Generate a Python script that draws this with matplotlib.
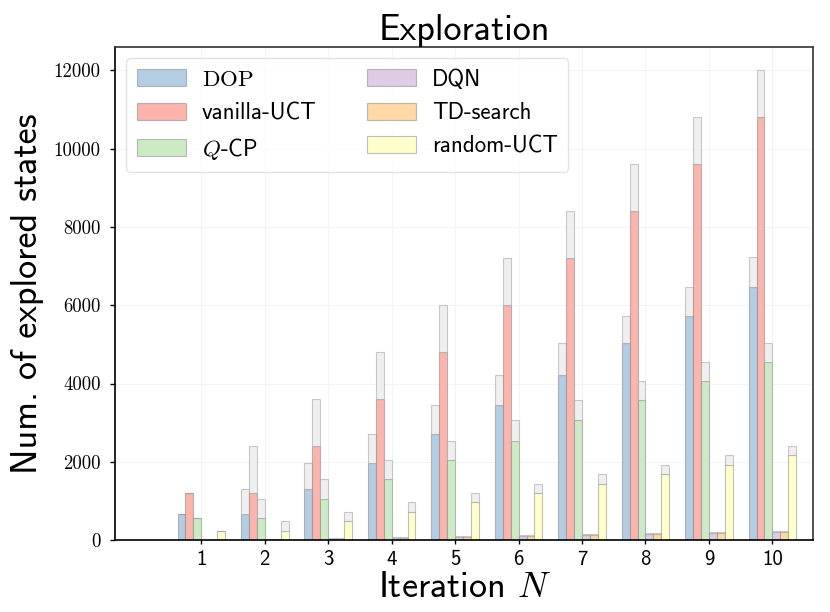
import numpy as np
import matplotlib
matplotlib.use("Agg")
import matplotlib.pyplot as plt

plt.rcParams['mathtext.fontset'] = 'cm'
plt.rcParams['axes.unicode_minus'] = False

# explored states after each iteration (top of the grey part)
iterations = [1, 2, 3, 4, 5, 6, 7, 8, 9, 10]
dop = [660, 1305, 1970, 2705, 3450, 4210, 5030, 5730, 6460, 7234]
vanilla_uct = [1200, 2400, 3600, 4800, 6000, 7200, 8400, 9600, 10800, 12000]
q_cp = [555, 1050, 1553, 2047, 2525, 3065, 3580, 4062, 4555, 5040]
dqn = [10, 35, 60, 85, 105, 135, 160, 185, 210, 230]
td_search = [10, 35, 60, 85, 105, 135, 160, 185, 210, 230]
random_uct = [222, 478, 709, 965, 1200, 1433, 1680, 1915, 2167, 2397]

labels = [r'$\mathrm{DOP}$', 'vanilla-UCT', r'$Q$-CP', 'DQN', 'TD-search', 'random-UCT']
series = [dop, vanilla_uct, q_cp, dqn, td_search, random_uct]
colors = ['#b3cde3', '#fbb4ae', '#ccebc5', '#decbe4', '#fed9a6', '#ffffcc']

sans = 'cmss10'

fig, ax = plt.subplots(figsize=(8.3, 6.12), dpi=100)
fig.subplots_adjust(left=0.1386, right=0.9795, top=0.9232, bottom=0.1176)

x = np.array(iterations)
width = 0.125
for i, (vals, lab, col) in enumerate(zip(series, labels, colors)):
    vals = np.array(vals)
    prev = np.r_[vals[0], vals[:-1]]  # count of the previous iteration
    pos = x + (i - 2.5) * width
    ax.bar(pos, prev, width, color=col, edgecolor=(0.5, 0.5, 0.5, 0.5),
           linewidth=0.8, label=lab, zorder=2)
    ax.bar(pos, vals - prev, width, bottom=prev, color='#efefef',
           edgecolor=(0.6, 0.6, 0.6, 0.5), linewidth=0.8, zorder=2)

ax.set_xlim(-0.36, 10.64)
ax.set_ylim(0, 12600)
ax.set_xticks(iterations)
ax.set_xticklabels([str(v) for v in iterations], fontfamily=sans, fontsize=15)
yt = np.arange(0, 12001, 2000)
ax.set_yticks(yt)
ax.set_yticklabels([str(v) for v in yt], fontfamily='cmr10', fontsize=13.5)
ax.tick_params(axis='x', length=3, width=1, pad=4.5)
ax.tick_params(axis='y', length=3.5, width=1, pad=7)

ax.grid(True, color='#f4f4f4', linewidth=0.8, zorder=0)
ax.set_axisbelow(True)
for s in ['left', 'bottom']:
    ax.spines[s].set_color('black')
    ax.spines[s].set_linewidth(1.2)
for s in ['top', 'right']:
    ax.spines[s].set_color('#333333')
    ax.spines[s].set_linewidth(1.2)

ax.set_title('Exploration', fontfamily=sans, fontsize=26, pad=5)
ax.set_ylabel('Num. of explored states', fontfamily=sans, fontsize=26, labelpad=7)
ax.set_xlabel(r'Iteration $N$', fontfamily=sans, fontsize=26, labelpad=1)

leg = ax.legend(loc='upper left', ncol=2, prop={'family': sans, 'size': 16.5},
                handlelength=2.14, handleheight=0.79, columnspacing=2.2,
                handletextpad=0.7, labelspacing=0.5, borderpad=0.45,
                frameon=True, fancybox=True)
leg.get_frame().set_edgecolor('#dddddd')
leg.get_frame().set_linewidth(1.0)

fig.savefig('out.png', dpi=100)
